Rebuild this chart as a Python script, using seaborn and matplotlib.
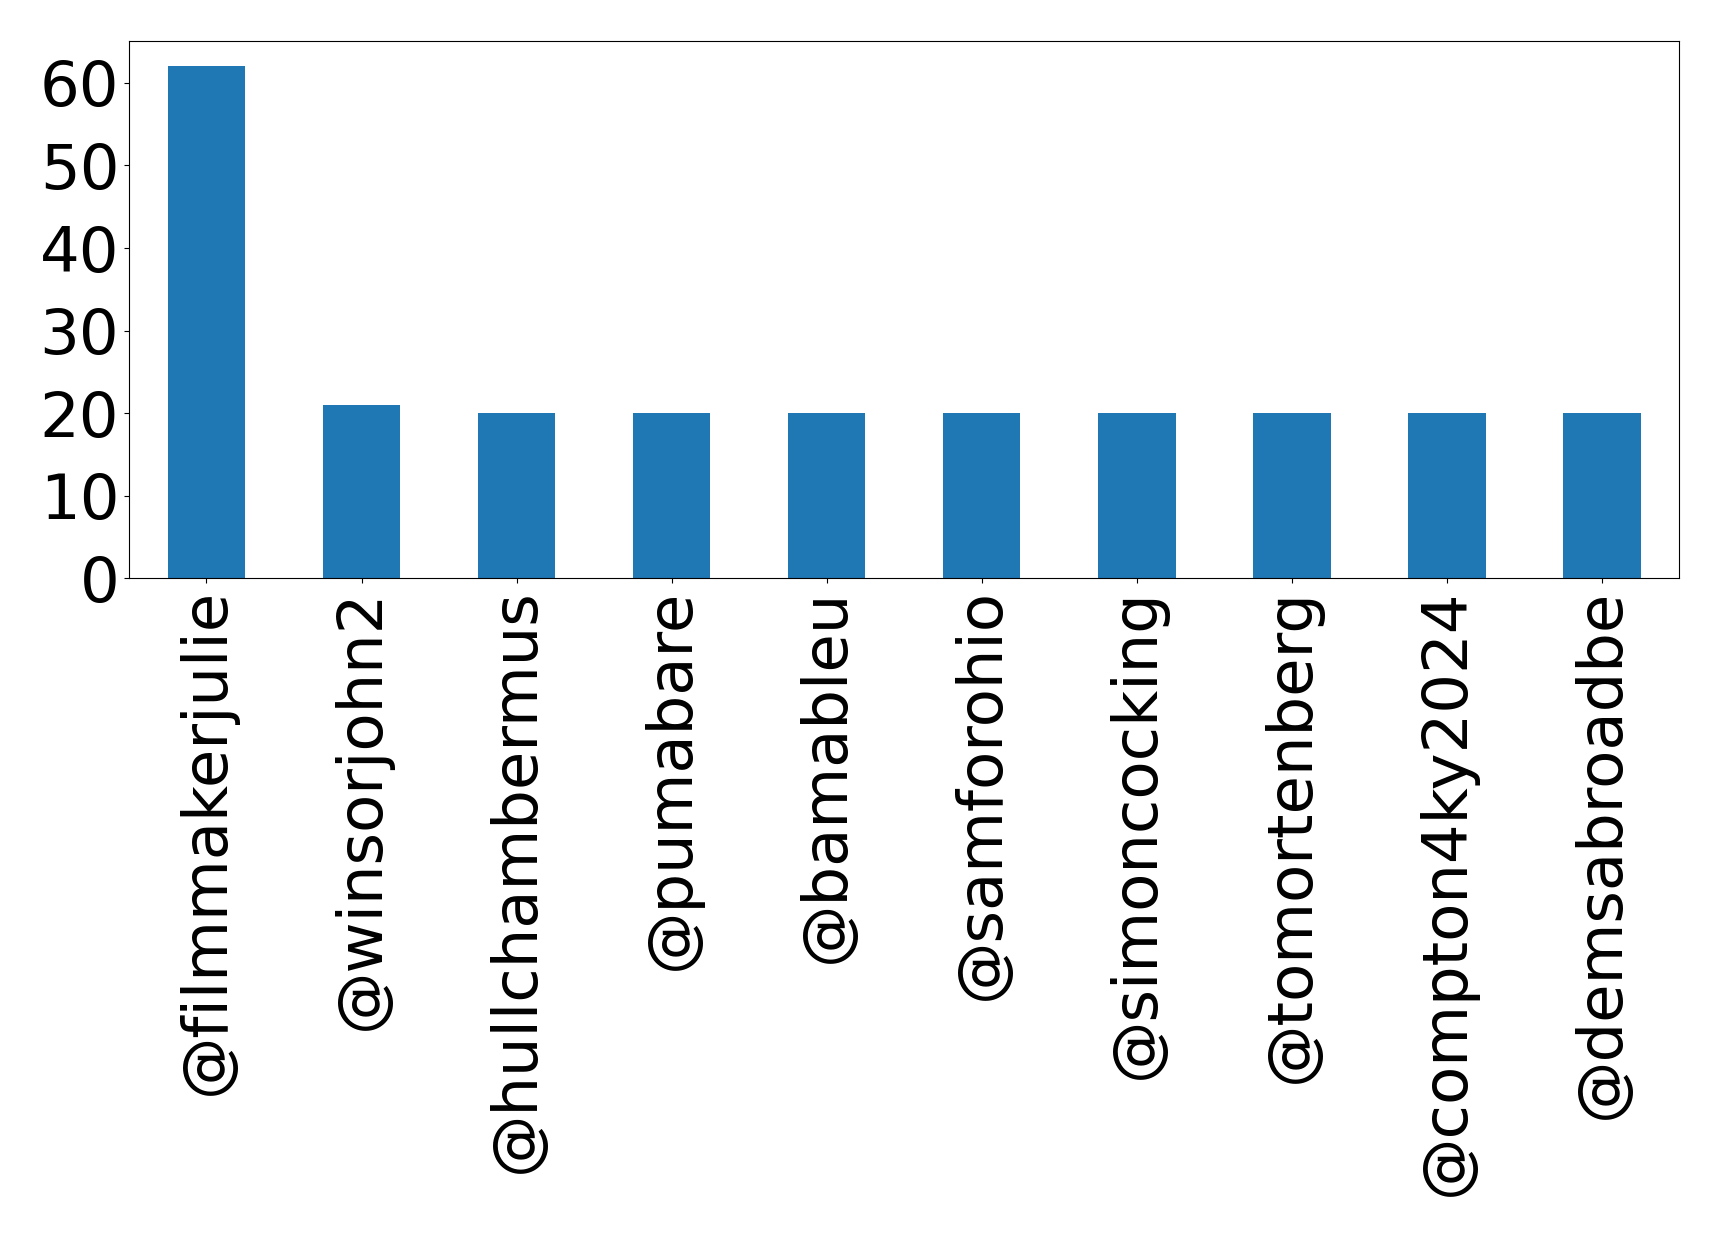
import matplotlib
matplotlib.use('Agg')
import matplotlib.pyplot as plt
from matplotlib.ticker import MultipleLocator
import pandas as pd
import seaborn as sns

# mention counts per account
accounts = ['@filmmakerjulie', '@winsorjohn2', '@hullchambermus', '@pumabare',
            '@bamableu', '@samforohio', '@simoncocking', '@tomortenberg',
            '@compton4ky2024', '@demsabroadbe']
counts = [62, 21, 20, 20, 20, 20, 20, 20, 20, 20]

df = pd.DataFrame({'account': accounts, 'count': counts})

fig, ax = plt.subplots(figsize=(17.19, 12.36), dpi=100)
fig.subplots_adjust(left=0.075, right=0.977, top=0.967, bottom=0.532)

sns.barplot(x='account', y='count', data=df, ax=ax, color='#1f77b4',
            saturation=1, width=0.5, order=accounts)

ax.set_xlim(-0.5, len(accounts) - 0.5)
ax.set_ylim(0, max(counts) * 1.05)
ax.yaxis.set_major_locator(MultipleLocator(10))
ax.set_xlabel('')
ax.set_ylabel('')
ax.tick_params(axis='both', labelsize=45)
ax.tick_params(axis='x', rotation=90)

fig.savefig('out.png', dpi=100)
